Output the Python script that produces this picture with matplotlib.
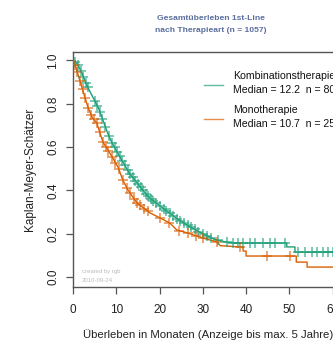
import matplotlib
matplotlib.use("Agg")
import matplotlib.pyplot as plt
import numpy as np

plt.rcParams['font.family'] = ['Liberation Sans', 'DejaVu Sans']

# ---- data ----
green_t = [0.0, 0.5, 1, 2, 3, 4, 5, 6, 7, 8, 9, 10, 11, 12, 13, 14, 15, 16, 17, 18, 19, 20,
           21, 22, 23, 24, 25, 26, 27, 28, 29, 30, 31, 32, 33, 34, 35, 36, 37,
           49.4, 49.4, 51.3, 51.3, 62.5]
green_s = [1.0, 0.995, 0.985, 0.945, 0.895, 0.853, 0.815, 0.775, 0.72, 0.665, 0.62, 0.585, 0.55,
           0.515, 0.48, 0.455, 0.43, 0.405, 0.38, 0.36, 0.345, 0.33, 0.315, 0.30, 0.285, 0.27,
           0.257, 0.245, 0.233, 0.222, 0.21, 0.20, 0.19, 0.18, 0.173, 0.168, 0.163, 0.16, 0.157,
           0.157, 0.139, 0.139, 0.115, 0.115]

orange_t = [0.0, 0.5, 2.1, 2.8, 3.5, 4.4, 5.5, 6.9, 8.5, 10.4, 11.5, 12.7, 14.8, 17.8, 20.1,
            22.4, 24.0, 26.6, 30.0, 33.3, 34.0, 38.6, 38.6, 39.3, 39.3, 40.0, 40.0,
            51.6, 51.6, 54.1, 54.1, 62.5]
orange_s = [1.0, 0.979, 0.873, 0.827, 0.781, 0.739, 0.711, 0.624, 0.573, 0.508, 0.448, 0.402,
            0.342, 0.296, 0.273, 0.249, 0.217, 0.203, 0.180, 0.162, 0.145, 0.139, 0.139, 0.139,
            0.12, 0.12, 0.097, 0.097, 0.069, 0.069, 0.046, 0.046]

green_censor = [0.5, 1.2, 1.8, 2.4, 3.0, 3.4, 5.0, 5.6, 6.2, 6.8, 7.5, 8.3, 9.0, 9.6, 10.2, 10.8,
                11.4, 12.0, 12.6, 13.2, 13.8, 14.4, 15.0, 15.6, 16.2, 16.8, 17.4, 18.0, 18.6,
                19.2, 20.0, 21.0, 21.6, 22.4, 23.2, 24.0, 24.8, 25.6, 26.5, 27.3, 28.2, 29.0,
                30.0, 31.0, 32.0, 33.5, 35.6, 37.0, 38.1, 39.3, 40.9, 42.0, 43.9, 45.5, 46.7,
                48.9, 51.9, 53.6, 55.2, 56.4, 57.8, 58.9, 60.0]
orange_censor = [0.5, 1.0, 1.6, 2.2, 2.8, 3.5, 4.2, 4.8, 5.5, 6.2, 6.9, 7.6, 8.2, 9.0, 9.8,
                 10.6, 11.5, 12.5, 13.2, 14.2, 14.8, 15.5, 16.5, 17.3, 20.0, 22.3, 24.5, 26.6,
                 28.5, 30.0, 33.3, 38.6, 44.8, 50.1]

groups = ["Kombinationstherapie", "Monotherapie"]
medians = [12.2, 10.7]
counts = [802, 255]
colors = ["#1b9e77", "#d95f02"]

xticks = [0, 10, 20, 30, 40, 50, 60]
yticks = [0.0, 0.2, 0.4, 0.6, 0.8, 1.0]

W, H = 333, 345
fig = plt.figure(figsize=(W / 100, H / 100), dpi=100)
ax = fig.add_axes([73 / W, 58 / H, 270 / W, 235 / H])

def step_value(t, ts, ss):
    return np.interp(t, np.asarray(ts), np.asarray(ss))

for (ts, ss, cs, col) in [(green_t, green_s, green_censor, colors[0]),
                          (orange_t, orange_s, orange_censor, colors[1])]:
    ax.plot(ts, ss, color=col, lw=1.0, zorder=3)
    cy = step_value(cs, ts, ss)
    ax.plot(cs, cy, linestyle="none", marker="+", markersize=6.5, mew=1.2,
            color=col, alpha=0.65, zorder=4)

ax.set_xlim(0, 62.4)
ax.set_ylim(-0.046, 1.039)
ax.set_xticks(xticks)
ax.set_xticklabels([str(v) for v in xticks])
ax.set_yticks(yticks)
ax.set_yticklabels([f"{v:.1f}" for v in yticks], rotation=90, va="center")
ax.tick_params(axis="both", direction="out", length=5, width=0.9, color="#555555",
               labelsize=8.5, labelcolor="#222222")
ax.tick_params(axis="x", pad=7)
ax.tick_params(axis="y", pad=5)
for sp in ax.spines.values():
    sp.set_color("#555555")
    sp.set_linewidth(1.0)

ax.set_xlabel("Überleben in Monaten (Anzeige bis max. 5 Jahre)", fontsize=8.2,
              color="#222222", labelpad=10)
ax.set_ylabel("Kaplan-Meyer-Schätzer", fontsize=8.5, color="#222222", labelpad=8)

# legend (manual, no frame)
def fx(px): return px / W
def fy(py): return 1 - py / H

for i, (g, m, n, col) in enumerate(zip(groups, medians, counts, colors)):
    y0 = 76 + i * 34
    fig.add_artist(plt.Line2D([fx(204), fx(223)], [fy(y0 + 8.5), fy(y0 + 8.5)],
                              color=col, lw=1.0, alpha=0.7))
    fig.text(fx(233), fy(y0), g, fontsize=7.6, va="center", ha="left", color="#111111")
    fig.text(fx(233), fy(y0 + 14), f"Median = {m}  n = {n}", fontsize=7.6,
             va="center", ha="left", color="#111111")

# title
fig.text(fx(211), fy(19), "Gesamtüberleben 1st-Line", fontsize=6.1, fontweight="bold",
         color="#5a6e9e", ha="center", va="center")
fig.text(fx(211), fy(31), "nach Therapieart (n = 1057)", fontsize=6.1, fontweight="bold",
         color="#5a6e9e", ha="center", va="center")

# watermark
fig.text(fx(82), fy(272), "created by rgb", fontsize=4.3, color="#bbbbbb", ha="left", va="center")
fig.text(fx(82), fy(280), "2010-09-24", fontsize=4.3, color="#bbbbbb", ha="left", va="center")

fig.savefig("out.png", dpi=100)
